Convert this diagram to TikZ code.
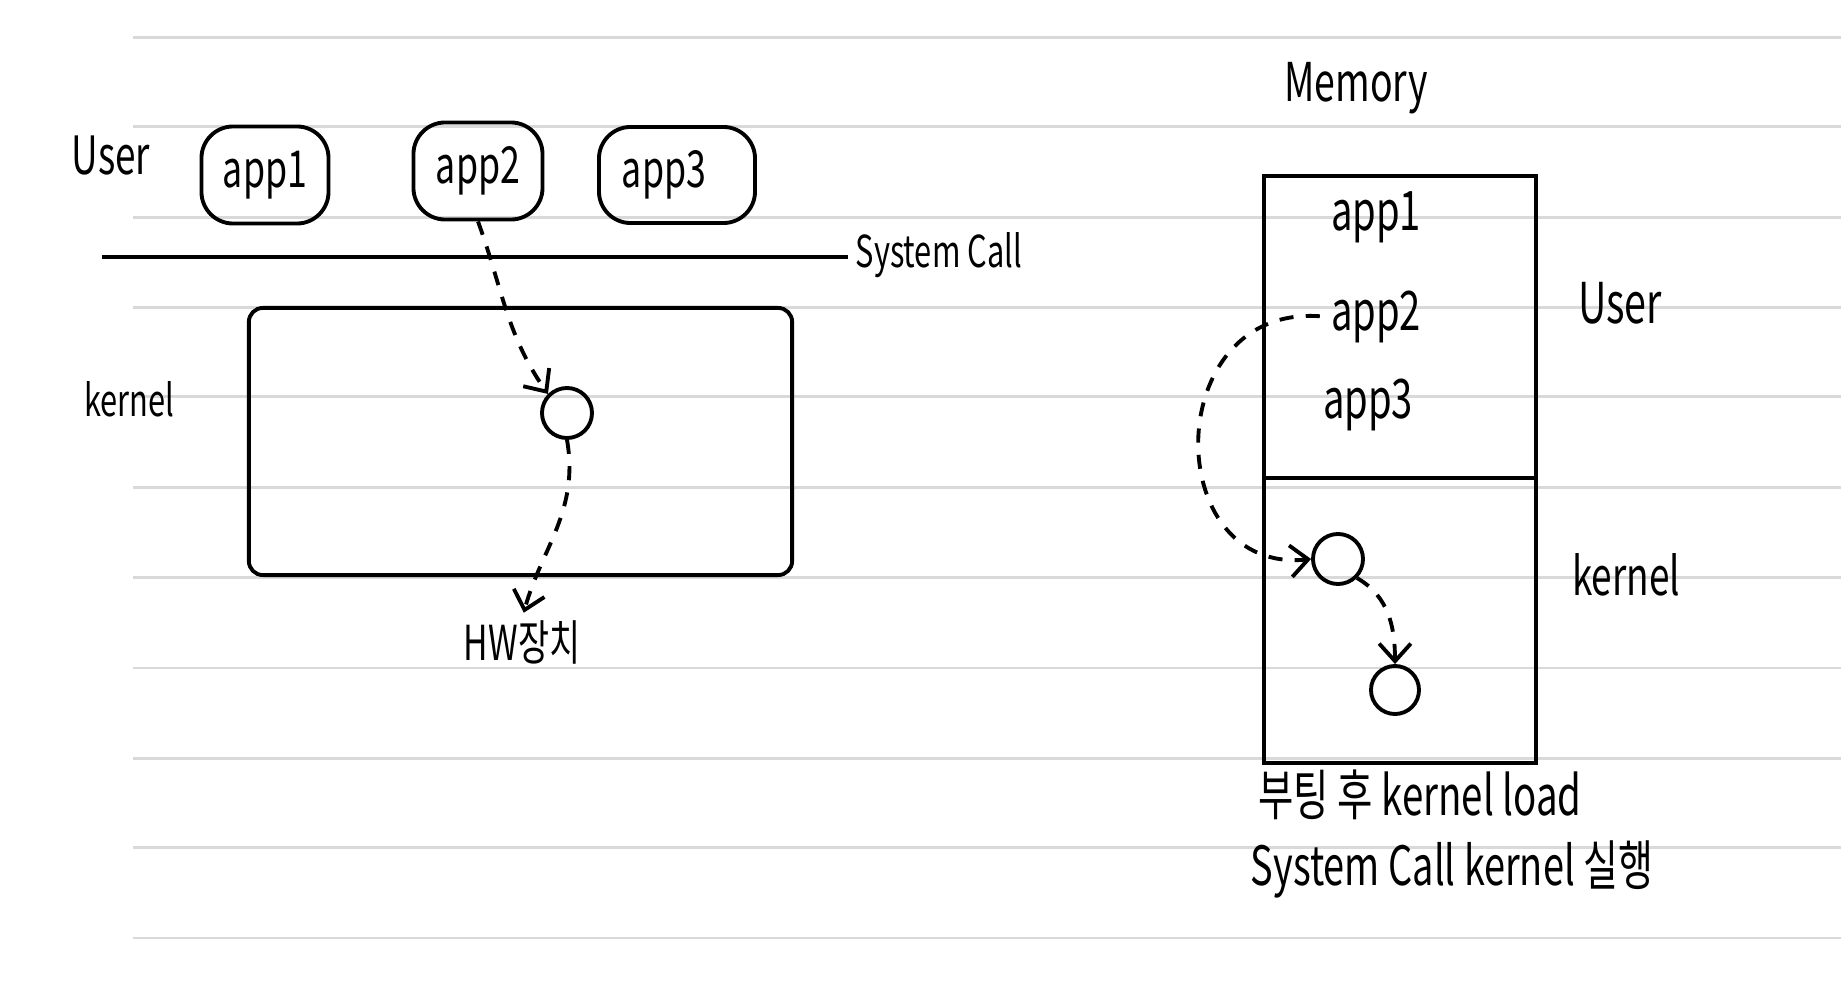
\documentclass[tikz,border=0pt]{standalone}
\usepackage{fontspec}
\setmainfont{Noto Sans CJK KR}[FakeStretch=0.7]
\usetikzlibrary{arrows.meta}
\begin{document}
\begin{tikzpicture}[x=0.01cm,y=-0.01cm,
  ink/.style={line width=1.1pt, black},
  appbox/.style={ink, draw, rounded corners=9pt, inner sep=0pt, font=\fontsize{14.5}{18}\selectfont},
  lbl/.style={inner sep=0pt, font=\fontsize{15}{18}\selectfont},
  big/.style={inner sep=0pt, font=\fontsize{16}{20}\selectfont},
  fs/.style={font=\fontsize{#1}{20}\selectfont},
  dsh/.style={line width=1.1pt, dash pattern=on 4pt off 3.5pt, -{Straight Barb[length=5pt,width=9pt]}},
  dot/.style={circle, draw, line width=1.1pt, minimum size=0.5cm, inner sep=0pt},
  rule/.style={line width=0.8pt, gray!30}]
\useasboundingbox (0,0) rectangle (1841,1000);
\fill[white] (0,0) rectangle (1841,1000);
\foreach \y in {37.6,126.8,217.2,307.6,396.8,487.2,577.6,668,758.4,847.6,938}
  \draw[rule] (133,\y) -- (1841,\y);
% left part
\node[lbl] (userL) at (111,156) {User};
\node[appbox, minimum width=1.27cm, minimum height=0.97cm] (a1) at (265,175) {app1};
\node[appbox, minimum width=1.29cm, minimum height=0.97cm] (a2) at (478,171) {app2};
\node[appbox, minimum width=1.56cm, minimum height=0.96cm] (a3) at (677,175) {app3\rule{0.26cm}{0pt}};
\coordinate (scL) at (102,257);
\coordinate (scR) at (848,257);
\draw[ink] (scL) -- (scR);
\node[lbl, fs=12.5, anchor=west] (sc) at (855,255) {System Call};
\node[draw, ink, minimum width=5.43cm, minimum height=2.67cm, rounded corners=4pt] (kern) at (520.5,441.5) {};
\node[lbl, fs=12.5] (kernL) at (129,399) {kernel};
\node[dot] (kc) at (567,413) {};
\node[lbl, fs=13.7] (hw) at (522,642) {HW장치};
\draw[dsh] (a2.south) to[out=-70,in=125] (kc.north west);
\draw[dsh, shorten >=2pt] (kc.south) to[out=-80,in=75] (hw.north);
% right part
\node[big, fs=15.2] (mem) at (1356,88) {Memory};
\node[draw, ink, minimum width=2.72cm, minimum height=3.02cm, inner sep=0pt] (mu) at (1400,327) {};
\node[draw, ink, minimum width=2.72cm, minimum height=2.85cm, inner sep=0pt] (mk) at (1400,620.5) {};
\node[big, fs=15.5] (m1) at (1376,217) {app1};
\node[big, fs=15.5] (m2) at (1376,317) {app2};
\node[big, fs=15.5] (m3) at (1368,405) {app3};
\node[big] (uR) at (1620,303) {User};
\node[big, fs=15] (kR) at (1626,575) {kernel};
\node[dot] (c1) at (1338,559) {};
\node[dot, minimum size=0.48cm] (c2) at (1395,690) {};
\draw[dsh, shorten <=3pt] (m2.west) .. controls (1160,305) and (1160,575) .. (c1.west);
\draw[dsh] (c1.south east) to[out=-30,in=90] (c2.north);
\node[big, fs=15.6] (t1) at (1420,795) {부팅 후 kernel load};
\node[big, fs=15.4] (t2) at (1452,869) {System Call kernel 실행};
\end{tikzpicture}
\end{document}
